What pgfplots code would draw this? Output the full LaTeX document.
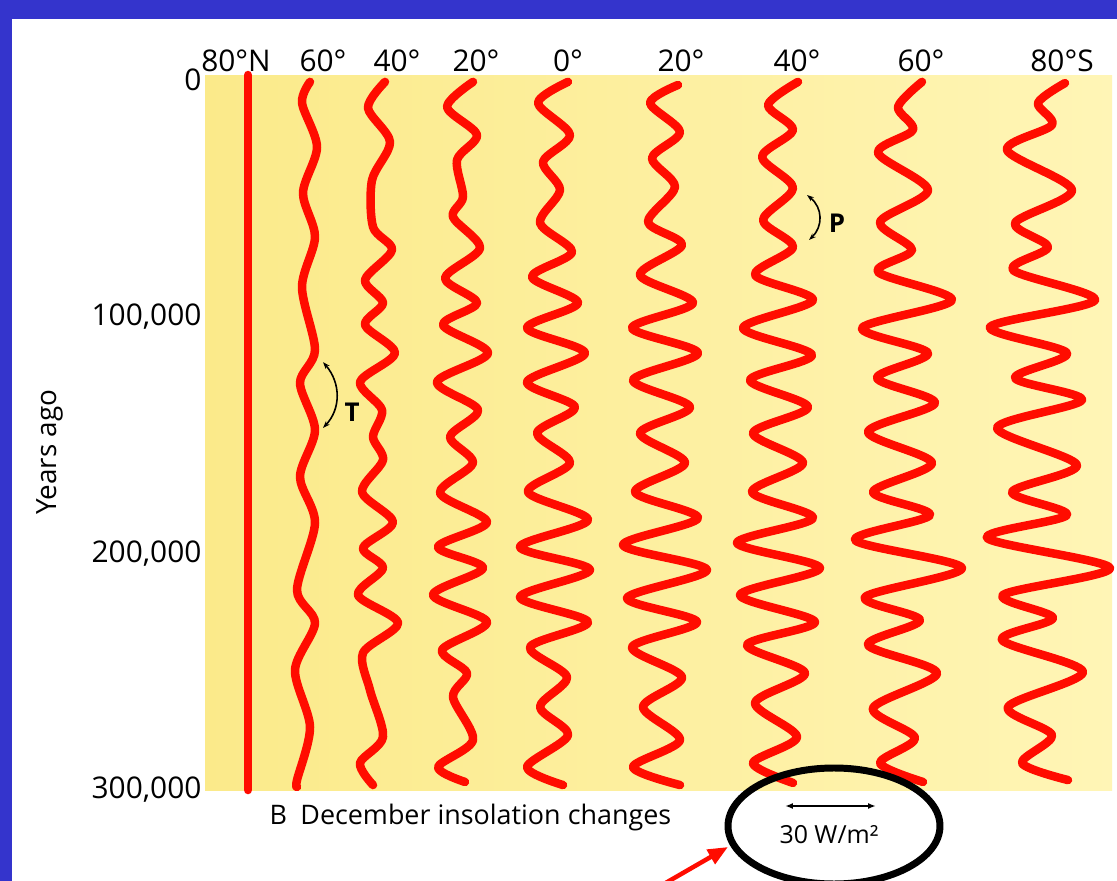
\documentclass[border=0pt]{standalone}
\usepackage{fontspec}
\setmainfont{Open Sans}
\usepackage{pgfplots}
\pgfplotsset{compat=1.18}
\usetikzlibrary{arrows.meta}
\definecolor{bordblue}{RGB}{52,52,204}
\definecolor{ylw}{RGB}{251,234,138}
\definecolor{ylwlight}{RGB}{255,245,182}
\definecolor{curvered}{RGB}{255,12,0}
\begin{document}
\begin{tikzpicture}
\useasboundingbox (0,0) rectangle (1117bp,-881bp);
\clip (0,0) rectangle (1117bp,-881bp);
\begin{scope}[x=1bp,y=-1bp]
\fill[white] (0,0) rectangle (1117,881);
\fill[bordblue] (0,0) rectangle (1117,19);
\fill[bordblue] (0,0) rectangle (12,881);
\end{scope}
\begin{axis}[
  at={(658.5bp,-432.5bp)}, anchor=center,
  x=1bp, y=2.3667bp, y dir=reverse,
  xmin=205, xmax=1112, ymin=-2.1, ymax=300,
  axis line style={draw=none},
  major tick length=0pt,
  axis background/.style={left color=ylw, right color=ylwlight},
  xtick={236,323,397,476,568,681,797,921,1062},
  xticklabels={80°N,60°,40°,20°,0°,20°,40°,60°,80°S},
  xticklabel pos=upper,
  ytick={0,100,200,300},
  yticklabels={0,{100,000},{200,000},{300,000}},
  ticklabel style={font=\fontsize{30}{36}\selectfont, text=black},
  clip=false, no markers,
  curve/.style={curvered, line width=8.5bp, line cap=round, line join=round, smooth},
]
% 80 N
\addplot[curve, sharp plot] coordinates {(248,-2.1) (248,300)};
% 60 N
\addplot[curve] coordinates {(310,0.8) (302,9.7) (317,28.3) (303,47.7) (315,66.3) (302,87.5) (315,114.1) (300,128.0) (315,147.9) (300,167.7) (315,187.2) (297,215.5) (315,229.4) (295,249.3) (310,273.4) (297,295.8) (297,298.7)};
% 40 N
\addplot[curve] coordinates {(385,0.8) (368,11.8) (390,26.2) (372,42.3) (373,62.1) (392,71.8) (365,84.5) (383,94.2) (365,103.5) (395,115.4) (360,127.6) (382,139.4) (373,150.8) (383,160.6) (362,174.1) (393,186.8) (363,197.7) (383,206.2) (358,217.6) (398,229.4) (363,242.1) (370,257.8) (383,277.6) (360,288.6) (373,297.9)};
% 20 N
\addplot[curve] coordinates {(473,0.8) (447,11.4) (477,23.2) (457,33.8) (463,49.4) (453,57.9) (480,71.0) (445,83.7) (477,94.2) (443,103.5) (488,115.4) (437,127.6) (478,139.4) (450,150.8) (473,161.8) (440,174.5) (487,186.8) (438,197.3) (483,206.2) (433,217.6) (487,229.0) (442,240.8) (467,250.6) (453,260.7) (473,278.9) (438,290.3) (465,296.6)};
% 0
\addplot[curve] coordinates {(568,0.8) (538,9.7) (570,23.2) (543,34.6) (560,46.5) (540,60.4) (572,72.7) (532,83.2) (578,94.2) (527,104.8) (585,115.4) (527,127.6) (575,138.2) (537,149.2) (570,161.8) (528,174.1) (588,185.9) (520,197.3) (590,207.0) (520,218.5) (588,229.0) (530,239.6) (567,252.3) (540,264.9) (568,276.8) (527,290.3) (563,297.9)};
% 20 S
\addplot[curve] coordinates {(678,2.1) (650,9.7) (680,22.0) (652,33.0) (675,45.2) (648,60.0) (682,69.7) (640,82.4) (693,94.2) (632,104.8) (698,115.4) (633,126.8) (690,138.2) (640,149.2) (685,161.8) (635,174.1) (698,185.1) (623,196.5) (707,207.0) (627,218.9) (697,229.0) (632,239.6) (682,252.3) (643,264.9) (680,278.9) (633,290.3) (680,297.9)};
% 40 S
\addplot[curve] coordinates {(798,0.8) (768,10.6) (793,21.1) (762,32.5) (793,45.6) (763,59.2) (793,70.6) (755,82.4) (813,93.0) (743,104.8) (812,116.2) (750,126.8) (808,138.2) (753,149.2) (803,161.8) (752,174.1) (813,185.1) (737,195.6) (820,206.2) (740,217.6) (815,229.0) (747,238.7) (805,250.6) (755,263.2) (797,277.6) (753,288.6) (793,297.0)};
% 60 S
\addplot[curve] coordinates {(922,0.8) (898,11.4) (913,21.1) (878,30.8) (928,46.5) (880,60.0) (912,71.8) (878,81.1) (952,93.0) (862,104.8) (928,115.4) (877,125.9) (935,136.5) (868,148.7) (932,161.8) (873,174.1) (930,183.8) (855,194.4) (962,206.2) (865,218.5) (920,228.2) (868,238.7) (937,250.6) (873,265.4) (915,278.0) (880,288.6) (923,296.6)};
% 80 S
\addplot[curve] coordinates {(1065,1.3) (1038,9.7) (1052,19.0) (1007,29.6) (1072,46.5) (1015,60.4) (1048,70.6) (1013,80.3) (1095,93.0) (990,104.4) (1067,115.4) (1015,125.9) (1082,135.2) (997,147.0) (1077,162.7) (1012,174.1) (1067,183.8) (987,193.5) (1110,206.2) (1003,217.6) (1053,227.3) (1002,236.6) (1083,250.1) (1008,264.9) (1052,276.8) (1022,288.6) (1068,295.8)};
% T and P brackets
\draw[black, line width=1.6bp, {Stealth[length=7bp,width=5bp]}-{Stealth[length=7bp,width=5bp]}] (axis cs:323,119.2) .. controls (axis cs:341,128) and (axis cs:341,139) .. (axis cs:323,147.0);
\node[font=\fontsize{26}{30}\selectfont\bfseries] at (axis cs:352,140.3) {T};
\draw[black, line width=1.6bp, {Stealth[length=7bp,width=5bp]}-{Stealth[length=7bp,width=5bp]}] (axis cs:807,48.6) .. controls (axis cs:823,54) and (axis cs:823,62) .. (axis cs:809,67.6);
\node[font=\fontsize{26}{30}\selectfont\bfseries] at (axis cs:837,60.4) {P};
\end{axis}
\begin{scope}[x=1bp,y=-1bp]
\node[rotate=90, font=\fontsize{28}{34}\selectfont] at (50,452) {Years ago};
\node[anchor=west, font=\fontsize{27}{32}\selectfont] at (266,818) {B\hspace{0.5em}December insolation changes};
\draw[line width=1.6, {Latex[length=8,width=6]}-{Latex[length=8,width=6]}] (785,806) -- (876,806);
\node[font=\fontsize{25}{30}\selectfont] at (829,835) {30 W/m²};
\draw[line width=7] (834,826) ellipse [x radius=106, y radius=58];
\draw[curvered, line width=4.5, -{Triangle[length=20,width=16]}] (650,892) -- (728,847);
\end{scope}
\end{tikzpicture}
\end{document}
